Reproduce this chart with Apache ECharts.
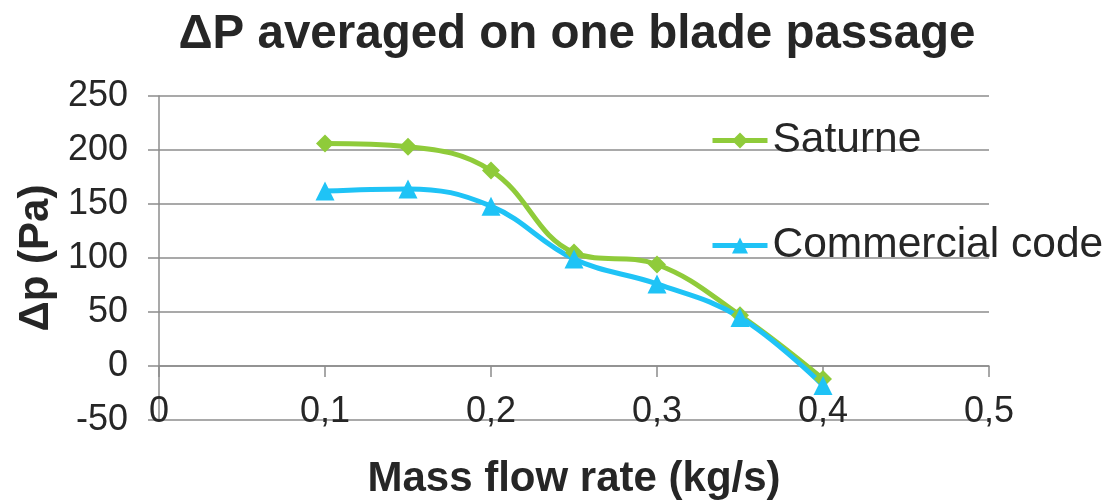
<!DOCTYPE html>
<html>
<head>
<meta charset="utf-8">
<script src="https://cdn.jsdelivr.net/npm/echarts@6/dist/echarts.min.js"></script>
<style>
  html, body { margin: 0; padding: 0; background: #fff; }
  #main { width: 1107px; height: 504px; }
</style>
</head>
<body>
<div id="main"></div>
<script>
// data
var massFlow = [0.1, 0.15, 0.2, 0.25, 0.3, 0.35, 0.4]
var saturne = [206, 203, 181, 105, 94, 47, -12]
var commercial = [162, 164, 148, 99, 76, 45, -18]
var yTicks = [-50, 0, 50, 100, 150, 200, 250]
var xTicks = [0, 0.1, 0.2, 0.3, 0.4, 0.5]

var font = '"Liberation Sans", Arial, sans-serif'
var green = '#8fcb3a'
var blue = '#1fc3f6'
var grey = '#8c8c8c'

function pairs(ys) {
  return massFlow.map(function (x, i) { return [x, ys[i]] })
}

var myChart = echarts.init(document.getElementById('main'))

var option = {
  animation: false,
  backgroundColor: '#fff',
  textStyle: { fontFamily: font },
  title: {
    text: 'ΔP averaged on one blade passage',
    left: 572,
    textAlign: 'center',
    top: 6,
    textStyle: { fontFamily: font, fontSize: 47.5, fontWeight: 'bold', color: '#262626' }
  },
  legend: {
    orient: 'vertical',
    left: 710,
    top: 119,
    padding: 0,
    itemWidth: 55,
    itemHeight: 20,
    itemGap: 62,
    lineStyle: { width: 5 },
    textStyle: { fontFamily: font, fontSize: 42.5, color: '#262626', lineHeight: 40, padding: [0, 0, 0, 0] },
    data: ['Saturne', 'Commercial code']
  },
  grid: { left: 159, right: 118, top: 96, bottom: 84, outerBoundsMode: 'none', containLabel: false },
  xAxis: {
    type: 'value',
    min: xTicks[0],
    max: xTicks[xTicks.length - 1],
    interval: 0.1,
    name: 'Mass flow rate (kg/s)',
    nameLocation: 'middle',
    nameGap: 38,
    nameTextStyle: { fontFamily: font, fontSize: 42, fontWeight: 'bold', color: '#262626' },
    axisLine: { onZero: true, lineStyle: { color: grey, width: 1.5 } },
    axisTick: { show: true, length: 11, lineStyle: { color: grey, width: 1.5 } },
    splitLine: { show: false },
    axisLabel: {
      margin: -26,
      fontFamily: font,
      fontSize: 36,
      color: '#262626',
      formatter: function (v) { return String(Math.round(v * 10) / 10).replace('.', ',') }
    }
  },
  yAxis: {
    type: 'value',
    min: yTicks[0],
    max: yTicks[yTicks.length - 1],
    interval: 50,
    name: 'Δp (Pa)',
    nameLocation: 'middle',
    nameGap: 98,
    nameTextStyle: { fontFamily: font, fontSize: 42, fontWeight: 'bold', color: '#262626' },
    axisLine: { show: true, lineStyle: { color: grey, width: 1.5 } },
    axisTick: { show: true, length: 11, lineStyle: { color: grey, width: 1.5 } },
    splitLine: { show: true, lineStyle: { color: grey, width: 1.5 } },
    axisLabel: { margin: 31, fontFamily: font, fontSize: 36, color: '#262626' }
  },
  series: [
    {
      name: 'Saturne',
      type: 'line',
      smooth: 0.4,
      data: pairs(saturne),
      symbol: 'diamond',
      symbolSize: 18,
      itemStyle: { color: green },
      lineStyle: { color: green, width: 5 }
    },
    {
      name: 'Commercial code',
      type: 'line',
      smooth: 0.4,
      data: pairs(commercial),
      symbol: 'triangle',
      symbolSize: 19,
      itemStyle: { color: blue },
      lineStyle: { color: blue, width: 5 }
    }
  ]
}

myChart.setOption(option)
</script>
</body>
</html>
